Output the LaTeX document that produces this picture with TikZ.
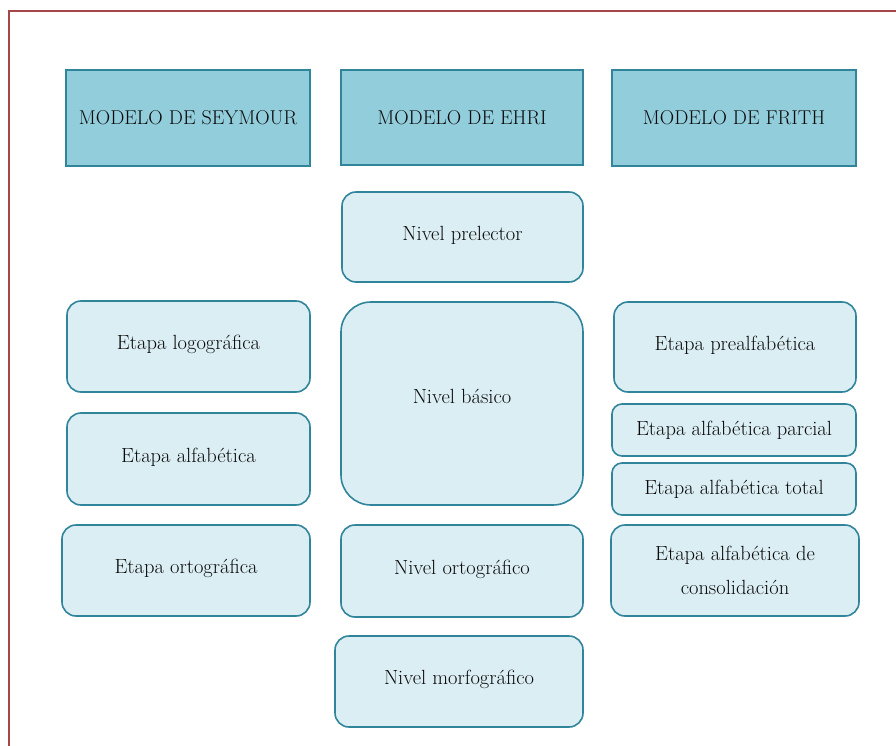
\documentclass[tikz,border=0pt]{standalone}
\usepackage{fontspec}
\definecolor{bord}{RGB}{49,133,155}
\definecolor{hdrfill}{RGB}{146,205,220}
\definecolor{bodyfill}{RGB}{219,238,244}
\definecolor{framec}{RGB}{165,70,72}
\definecolor{txt}{RGB}{10,10,10}
\begin{document}
\begin{tikzpicture}[x=1pt,y=-1pt,
  hdr/.style={draw=bord, fill=hdrfill, line width=1.8pt, text=txt, inner sep=0pt,
    font=\fontsize{20}{24}\selectfont},
  stagebox/.style={draw=bord, fill=bodyfill, line width=1.6pt, rounded corners=14pt,
    text=txt, inner sep=0pt, align=center, font=\fontsize{20.5}{34}\selectfont},
  lift/.style={text height=13pt, text depth=7pt},
  framel/.style={draw=framec, line width=1.6pt}]
\useasboundingbox (0,0) rectangle (896,746);
\coordinate (fa) at (9,746);
\coordinate (fb) at (9,11);
\coordinate (fc) at (896,11);
\draw[framel] (fa) -- (fb) -- (fc);
% headers
\node[hdr, minimum width=244pt, minimum height=96pt] (seymour) at (188,118) {MODELO DE SEYMOUR};
\node[hdr, minimum width=242pt, minimum height=95pt] (ehri) at (462,117.5) {MODELO DE EHRI};
\node[hdr, minimum width=244pt, minimum height=96pt] (frith) at (734,118) {MODELO DE FRITH};
% Seymour
\node[stagebox, lift, minimum width=243pt, minimum height=91pt] (logo) at (188.5,346.5) {Etapa logográfica};
\node[stagebox, lift, minimum width=243pt, minimum height=92pt] (alfa) at (188.5,459) {Etapa alfabética};
\node[stagebox, lift, minimum width=248pt, minimum height=91pt] (orto) at (186,570.5) {Etapa ortográfica};
% Ehri
\node[stagebox, lift, minimum width=241pt, minimum height=90pt] (prelector) at (462.5,237) {Nivel prelector};
\node[stagebox, text height=10pt, text depth=10pt, rounded corners=30pt, minimum width=242pt, minimum height=203pt] (basico) at (462,403.5) {Nivel básico};
\node[stagebox, lift, minimum width=242pt, minimum height=92pt] (nortog) at (462,571) {Nivel ortográfico};
\node[stagebox, lift, minimum width=248pt, minimum height=91pt] (morfo) at (459,681.5) {Nivel morfográfico};
% Frith
\node[stagebox, lift, minimum width=242pt, minimum height=90pt] (prealfa) at (735,347) {Etapa prealfabética};
\node[stagebox, rounded corners=10pt, minimum width=244pt, minimum height=52pt] (parcial) at (734,430) {Etapa alfabética parcial};
\node[stagebox, rounded corners=10pt, minimum width=244pt, minimum height=52pt] (total) at (734,489) {Etapa alfabética total};
\node[stagebox, minimum width=248pt, minimum height=91pt] (consol) at (735,570.5) {Etapa alfabética de\\consolidación};
\end{tikzpicture}
\end{document}
